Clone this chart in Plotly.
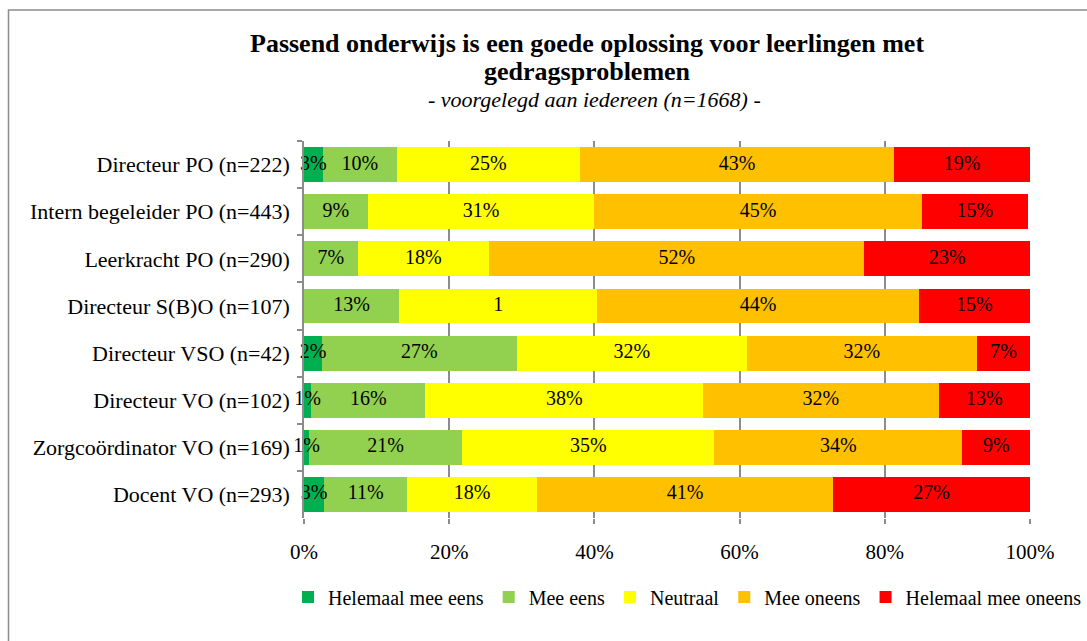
import plotly.graph_objects as go

categories = [
    "Directeur PO (n=222)",
    "Intern begeleider PO (n=443)",
    "Leerkracht PO (n=290)",
    "Directeur S(B)O (n=107)",
    "Directeur VSO (n=42)",
    "Directeur VO (n=102)",
    "Zorgcoördinator VO (n=169)",
    "Docent VO (n=293)",
]

series_names = ["Helemaal mee eens", "Mee eens", "Neutraal", "Mee oneens", "Helemaal mee oneens"]

helemaal_mee_eens = [2.6, 0.0, 0.0, 0.0, 2.5, 1.0, 0.7, 2.8]
mee_eens = [10.2, 8.8, 7.4, 13.1, 26.8, 15.7, 21.1, 11.4]
neutraal = [25.2, 31.2, 18.1, 27.3, 31.7, 38.3, 34.7, 17.9]
mee_oneens = [43.3, 45.1, 51.7, 44.3, 31.7, 32.4, 34.2, 40.8]
helemaal_mee_oneens = [18.7, 14.6, 22.8, 15.3, 7.3, 12.6, 9.3, 27.1]

labels_helemaal_mee_eens = ["3%", "", "", "", "2%", "1%", "1%", "3%"]
labels_mee_eens = ["10%", "9%", "7%", "13%", "27%", "16%", "21%", "11%"]
labels_neutraal = ["25%", "31%", "18%", "1", "32%", "38%", "35%", "18%"]
labels_mee_oneens = ["43%", "45%", "52%", "44%", "32%", "32%", "34%", "41%"]
labels_helemaal_mee_oneens = ["19%", "15%", "23%", "15%", "7%", "13%", "9%", "27%"]

x_tick_vals = [0, 20, 40, 60, 80, 100]
x_tick_text = ["0%", "20%", "40%", "60%", "80%", "100%"]

title_line1 = "Passend onderwijs is een goede oplossing voor leerlingen met"
title_line2 = "gedragsproblemen"
subtitle = "- voorgelegd aan iedereen (n=1668) -"

colors = ["#00B050", "#92D050", "#FFFF00", "#FFC000", "#FF0000"]
values = [helemaal_mee_eens, mee_eens, neutraal, mee_oneens, helemaal_mee_oneens]
labels = [labels_helemaal_mee_eens, labels_mee_eens, labels_neutraal,
          labels_mee_oneens, labels_helemaal_mee_oneens]

FONT = "Liberation Serif"

fig = go.Figure()
for name, vals, col in zip(series_names, values, colors):
    fig.add_trace(go.Bar(
        y=categories, x=vals, name=name, orientation="h",
        marker=dict(color=col, line=dict(width=0)),
        hoverinfo="skip",
    ))

# data labels drawn on top of all bars, centred in each segment
cum = [0.0] * len(categories)
for vals, labs in zip(values, labels):
    mids = [c + v / 2 for c, v in zip(cum, vals)]
    fig.add_trace(go.Scatter(
        y=categories, x=mids, mode="text", text=labs,
        textposition="middle center",
        textfont=dict(family=FONT, size=20, color="#000000"),
        showlegend=False, hoverinfo="skip", cliponaxis=False,
    ))
    cum = [c + v for c, v in zip(cum, vals)]

L, R, T, B = 304, 57, 141, 123
W, H = 1087, 641
pw = W - L - R
ph = H - T - B

def px_x(x):
    return (x - L) / pw

def px_y(y):
    return (H - B - y) / ph

fig.update_layout(
    barmode="stack",
    bargap=0.26,
    width=W, height=H,
    margin=dict(l=L, r=R, t=T, b=B, pad=0),
    paper_bgcolor="white",
    plot_bgcolor="white",
    font=dict(family=FONT, size=21, color="#000000"),
    showlegend=True,
    legend=dict(
        orientation="h", x=px_x(290), y=px_y(597), xanchor="left", yanchor="middle",
        font=dict(family=FONT, size=20, color="#000000"),
        traceorder="normal", itemwidth=30, tracegroupgap=0,
        bgcolor="rgba(0,0,0,0)",
    ),
    xaxis=dict(
        range=[0, 100], tickvals=x_tick_vals, ticktext=x_tick_text,
        showgrid=True, gridcolor="#8C8C8C", gridwidth=1.5,
        ticks="outside", ticklen=5, tickcolor="#8C8C8C", tickwidth=1.5,
        showline=False, zeroline=False, fixedrange=True,
        tickfont=dict(family=FONT, size=21),
        ticklabelstandoff=10,
    ),
    yaxis=dict(
        autorange="reversed", showline=True, linecolor="#8C8C8C", linewidth=1.5,
        ticks="outside", tickson="boundaries", ticklen=5, tickcolor="#8C8C8C", tickwidth=1.5,
        showgrid=False, tickfont=dict(family=FONT, size=22),
        ticklabelstandoff=8, fixedrange=True,
    ),
    shapes=[dict(type="rect", xref="paper", yref="paper",
                 x0=px_x(8.5), x1=px_x(1100), y0=px_y(10), y1=px_y(660),
                 line=dict(color="#8C8C8C", width=1.5), fillcolor="rgba(0,0,0,0)", layer="below")],
    annotations=[
        dict(text="<b>" + title_line1 + "</b>", xref="paper", yref="paper",
             x=px_x(587), y=px_y(44), xanchor="center", yanchor="middle", showarrow=False,
             font=dict(family=FONT, size=26)),
        dict(text="<b>" + title_line2 + "</b>", xref="paper", yref="paper",
             x=px_x(587), y=px_y(72), xanchor="center", yanchor="middle", showarrow=False,
             font=dict(family=FONT, size=26)),
        dict(text="<i>" + subtitle + "</i>", xref="paper", yref="paper",
             x=px_x(594), y=px_y(100), xanchor="center", yanchor="middle", showarrow=False,
             font=dict(family=FONT, size=22)),
    ],
)

fig.write_html("out.html", config={"displayModeBar": False},
               post_script="document.body.style.margin='0px';")
